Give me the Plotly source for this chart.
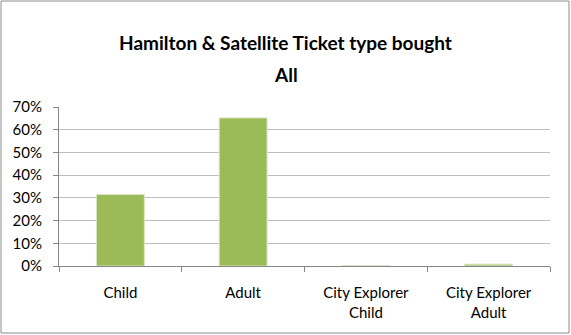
import plotly.graph_objects as go

categories = ["Child", "Adult", "City Explorer<br>Child", "City Explorer<br>Adult"]
values = [0.315, 0.652, 0.001, 0.008]
y_ticks = [0, 0.1, 0.2, 0.3, 0.4, 0.5, 0.6, 0.7]
y_labels = ["0%", "10%", "20%", "30%", "40%", "50%", "60%", "70%"]
title_line1 = "Hamilton &amp; Satellite Ticket type bought"
title_line2 = "All"

W, H = 571, 335
L, R, T, B = 59, 21, 107, 69
pw, ph = W - L - R, H - T - B
FONT = "Lato, Open Sans, sans-serif"
cx = 0.5 + ((W / 2) - L - pw / 2) / pw

fig = go.Figure(go.Bar(
    x=categories, y=values,
    marker=dict(color="#9BBB59", line=dict(color="#d9e6c3", width=1)),
    width=0.39,
))

fig.update_layout(
    width=W, height=H,
    margin=dict(l=L, r=R, t=T, b=B),
    paper_bgcolor="white", plot_bgcolor="white",
    font=dict(family=FONT, size=15, color="#000"),
    showlegend=False,
    xaxis=dict(
        showline=True, linecolor="#868686", linewidth=1,
        ticks="outside", tickson="boundaries", ticklen=5, tickcolor="#868686",
        showgrid=False, tickfont=dict(size=15), ticklabelstandoff=13,
    ),
    yaxis=dict(
        range=[0, 0.7], tickvals=y_ticks, ticktext=y_labels,
        showline=True, linecolor="#868686", linewidth=1,
        ticks="outside", ticklen=5, tickcolor="#868686",
        showgrid=True, gridcolor="#bfbfbf", gridwidth=1,
        tickfont=dict(size=15), zeroline=False, ticklabelstandoff=8,
    ),
    annotations=[
        dict(text="<b>" + title_line1 + "</b>", xref="paper", yref="paper",
             x=cx, y=(T + ph - 42) / ph,
             xanchor="center", yanchor="middle", showarrow=False,
             font=dict(size=19, family=FONT, color="#000")),
        dict(text="<b>" + title_line2 + "</b>", xref="paper", yref="paper",
             x=cx, y=(T + ph - 74) / ph,
             xanchor="center", yanchor="middle", showarrow=False,
             font=dict(size=19, family=FONT, color="#000")),
    ],
    shapes=[dict(
        type="rect", xref="paper", yref="paper",
        x0=(1 - L) / pw, x1=(W - 2 - L) / pw,
        y0=-(H - 2 - (T + ph)) / ph, y1=(T + ph - 1) / ph,
        line=dict(color="#8c8c8c", width=1), fillcolor="rgba(0,0,0,0)",
        layer="below",
    )],
)

fig.write_html("out.html", config={"displayModeBar": False, "staticPlot": True})
with open("out.html", "r", encoding="utf-8") as f:
    html = f.read()
html = html.replace("<body>", '<body style="margin:0;padding:0;overflow:hidden">', 1)
with open("out.html", "w", encoding="utf-8") as f:
    f.write(html)
